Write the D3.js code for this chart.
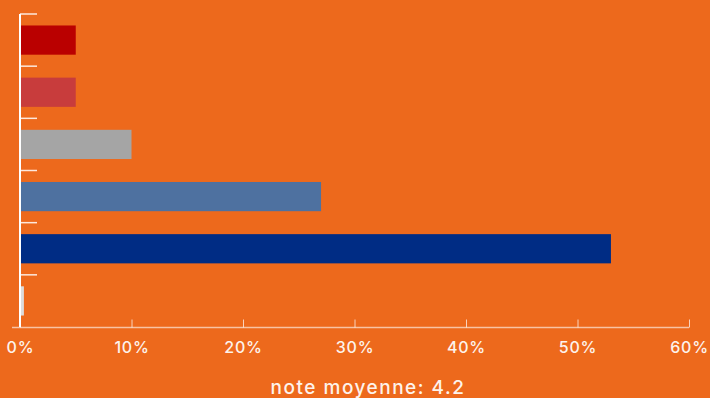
<!DOCTYPE html>
<html>
<head>
<meta charset="utf-8">
<script src="https://cdn.jsdelivr.net/npm/d3@7"></script>
<style>
  html, body { margin: 0; padding: 0; background: #ED691C; }
  svg { display: block; }
  text { font-family: Inter, "Open Sans", sans-serif; fill: #fdf3ec; }
</style>
</head>
<body>
<svg id="chart" width="710" height="398"></svg>
<script>
// Rating categories, top to bottom, with share of answers (%)
const categories = ["1", "2", "3", "4", "5", "n/a"];
const shares = [5, 5, 10, 27, 53, 0.35];
const barColors = ["#BA0000", "#C83C3C", "#A5A5A5", "#4E71A0", "#002C84", "#DCDCDC"];
const xTicks = [0, 10, 20, 30, 40, 50, 60];
const caption = "note moyenne: 4.2";

const svg = d3.select("#chart");
const margin = { top: 14, right: 21, bottom: 71, left: 20 };
const W = 710, H = 398;

const x = d3.scaleLinear().domain([0, 60]).range([margin.left, W - margin.right]);
const y = d3.scaleBand().domain(categories).range([margin.top, H - margin.bottom])
  .paddingInner(0.44).paddingOuter(0.22);

// bars
svg.append("g").selectAll("rect")
  .data(categories)
  .join("rect")
  .attr("x", x(0))
  .attr("y", d => y(d))
  .attr("width", (d, i) => x(shares[i]) - x(0))
  .attr("height", y.bandwidth())
  .attr("fill", (d, i) => barColors[i]);

// category boundary ticks on the vertical axis
const step = y.step();
const y0 = y.range()[0];
svg.append("g").selectAll("line")
  .data(categories)
  .join("line")
  .attr("x1", x(0)).attr("x2", x(0) + 17)
  .attr("y1", (d, i) => y0 + i * step)
  .attr("y2", (d, i) => y0 + i * step)
  .attr("stroke", "#ffffff").attr("stroke-opacity", 0.85).attr("stroke-width", 1.5);

// vertical axis line
svg.append("line")
  .attr("x1", x(0)).attr("x2", x(0))
  .attr("y1", y.range()[0]).attr("y2", y.range()[1])
  .attr("stroke", "#ffffff").attr("stroke-width", 2);

// horizontal axis
const axisY = y.range()[1] + 0.5;
const xAxis = svg.append("g").attr("transform", `translate(0,${axisY})`)
  .call(d3.axisBottom(x).tickValues(xTicks).tickFormat(d => d + "%").tickSize(-8).tickPadding(14));
xAxis.select(".domain").remove();
xAxis.selectAll(".tick line").attr("stroke", "#ffffff").attr("stroke-opacity", 0.7);
xAxis.selectAll(".tick text")
  .attr("font-size", "16px")
  .attr("font-weight", 500)
  .attr("letter-spacing", "0.8px")
  .style("font-family", "Inter, 'Open Sans', sans-serif")
  .attr("fill", "#fdf3ec");
svg.append("line")
  .attr("x1", x(0) - 8).attr("x2", x(60))
  .attr("y1", axisY).attr("y2", axisY)
  .attr("stroke", "#ffffff").attr("stroke-opacity", 0.6).attr("stroke-width", 1.5);

// caption
svg.append("text")
  .attr("x", 368).attr("y", 394)
  .attr("text-anchor", "middle")
  .attr("font-size", "19px")
  .attr("font-weight", 500)
  .attr("letter-spacing", "1.5px")
  .text(caption);
</script>
</body>
</html>
